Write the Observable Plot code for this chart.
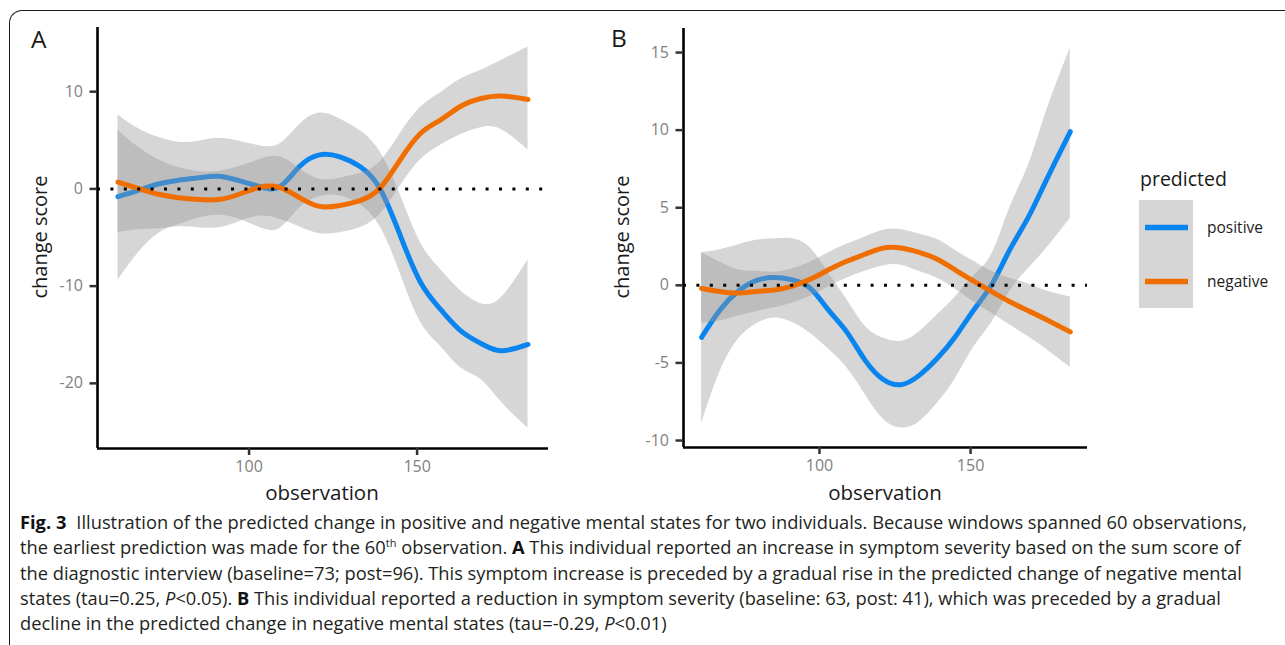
<!DOCTYPE html>
<html>
<head>
<meta charset="utf-8">
<script src="https://cdn.jsdelivr.net/npm/d3@7"></script>
<script src="https://cdn.jsdelivr.net/npm/@observablehq/plot@0.6"></script>
<style>
  html, body { margin: 0; padding: 0; background: #fff; }
  #wrap { position: relative; width: 1285px; height: 645px; overflow: hidden; font-family: "Open Sans", sans-serif; }
  .frame { position: absolute; left: 9px; top: 10px; width: 1400px; height: 800px;
           border-top: 1.3px solid #1a1a1a; border-left: 1.3px solid #1a1a1a; border-top-left-radius: 13px; box-sizing: border-box; }
  .panel { position: absolute; top: 0; }
  #overlay { position: absolute; left: 0; top: 0; pointer-events: none; }
  #caption { position: absolute; left: 20px; top: 509px; font-family: "Open Sans", sans-serif; font-size: 18.3px;
             line-height: 25.3px; color: #231f20; white-space: nowrap; }
  #caption .ln { display: block; }
  #caption b { font-weight: 700; color: #111; }
  #caption b.fig { margin-right: 10px; }
  #caption sup { font-size: 11px; vertical-align: 7px; line-height: 0; }
</style>
</head>
<body>
<div id="wrap">
  <div class="frame"></div>
  <div id="pA" class="panel" style="left:0px"></div>
  <div id="pB" class="panel" style="left:600px"></div>
  <svg id="overlay" width="1285" height="645"></svg>
  <div id="caption">
    <div class="ln"><b class="fig">Fig. 3</b>Illustration of the predicted change in positive and negative mental states for two individuals. Because windows spanned 60 observations,</div>
    <div class="ln">the earliest prediction was made for the 60<sup>th</sup> observation. <b>A</b> This individual reported an increase in symptom severity based on the sum score of</div>
    <div class="ln">the diagnostic interview (baseline=73; post=96). This symptom increase is preceded by a gradual rise in the predicted change of negative mental</div>
    <div class="ln">states (tau=0.25, <i>P</i>&lt;0.05). <b>B</b> This individual reported a reduction in symptom severity (baseline: 63, post: 41), which was preceded by a gradual</div>
    <div class="ln">decline in the predicted change in negative mental states (tau=-0.29, <i>P</i>&lt;0.01)</div>
  </div>
</div>
<script>
// ---------------- data ----------------
const obs = [61, 67, 73, 79, 85, 91, 97, 103, 109, 115, 121, 127, 133, 139, 145, 151, 157, 163, 169, 175, 183];

// Panel A
const A_pos    = [-0.8, -0.15, 0.5, 0.9, 1.15, 1.3, 0.85, 0.25, 0.2, 2.3, 3.5, 3.3, 2.3, 0.0, -4.8, -9.6, -12.4, -14.6, -15.9, -16.65, -16.0];
const A_pos_lo = [-9.4, -6.6, -4.6, -3.7, -3.0, -2.7, -3.1, -3.95, -4.1, -2.0, -0.8, -0.7, -1.6, -3.9, -8.7, -13.7, -16.2, -18.4, -19.6, -21.9, -24.6];
const A_pos_hi = [7.6, 6.2, 5.3, 4.8, 4.9, 5.2, 4.9, 4.45, 4.6, 6.6, 7.8, 7.2, 6.0, 3.8, -0.6, -5.5, -8.3, -10.5, -11.8, -11.2, -7.3];
const A_neg    = [0.7, 0.05, -0.55, -0.9, -1.1, -1.1, -0.55, 0.15, 0.15, -0.9, -1.8, -1.7, -1.2, 0.1, 3.0, 5.7, 7.1, 8.5, 9.3, 9.55, 9.2];
const A_neg_lo = [-4.5, -4.2, -4.1, -3.9, -4.0, -4.0, -3.4, -2.8, -3.1, -3.9, -4.6, -4.5, -4.0, -2.6, 0.3, 3.0, 4.5, 5.6, 6.3, 6.1, 4.0];
const A_neg_hi = [6.0, 4.3, 3.0, 2.2, 1.8, 1.8, 2.3, 3.0, 3.3, 2.1, 1.0, 1.1, 1.6, 2.8, 5.7, 8.4, 9.9, 11.3, 12.2, 13.2, 14.6];

// Panel B
const B_pos    = [-3.35, -1.6, -0.4, 0.3, 0.5, 0.35, -0.2, -1.6, -3.0, -4.8, -6.05, -6.4, -5.8, -4.7, -3.3, -1.6, 0.05, 2.3, 4.35, 6.75, 9.9];
const B_pos_lo = [-8.9, -5.6, -3.5, -2.5, -2.1, -2.4, -3.1, -4.1, -5.3, -7.0, -8.6, -9.2, -8.8, -7.6, -6.0, -4.0, -2.4, -0.4, 1.05, 2.35, 4.3];
const B_pos_hi = [2.1, 2.3, 2.6, 2.9, 3.0, 3.0, 2.4, 0.8, -0.9, -2.6, -3.4, -3.6, -3.0, -1.9, -0.75, 0.6, 2.0, 5.0, 7.65, 11.15, 15.3];
const B_neg    = [-0.2, -0.4, -0.5, -0.4, -0.3, -0.05, 0.4, 1.0, 1.55, 2.0, 2.4, 2.4, 2.12, 1.68, 0.98, 0.27, -0.41, -1.06, -1.63, -2.2, -3.0];
const B_neg_lo = [-2.45, -2.3, -2.0, -1.7, -1.45, -1.15, -0.7, -0.1, 0.45, 0.9, 1.25, 1.3, 0.9, 0.45, -0.25, -1.05, -1.8, -2.55, -3.3, -4.1, -5.3];
const B_neg_hi = [2.1, 1.5, 1.0, 0.9, 0.85, 1.05, 1.5, 2.1, 2.65, 3.1, 3.55, 3.6, 3.3, 2.95, 2.25, 1.55, 0.9, 0.45, 0.1, -0.35, -0.75];

const xTicks = [100, 150];
const A_yTicks = [-20, -10, 0, 10];
const B_yTicks = [-10, -5, 0, 5, 10, 15];
const seriesNames = ["positive", "negative"];
const seriesColors = ["#0A84EE", "#F06E00"];

// ---------------- build ----------------
const rows = (y, lo, hi) => obs.map((o, i) => ({x: o, y: y[i], lo: lo[i], hi: hi[i]}));

function panel({pos, neg, xDomain, yDomain, yTicks, width, height, mL, mR, mT, mB}) {
  const ribbon = (d) => Plot.areaY(d, {x: "x", y1: "lo", y2: "hi", fill: "#999999", fillOpacity: 0.4, curve: "natural"});
  const line = (d, c) => Plot.line(d, {x: "x", y: "y", stroke: c, strokeWidth: 5, curve: "natural"});
  return Plot.plot({
    width, height,
    marginLeft: mL, marginRight: mR, marginTop: mT, marginBottom: mB,
    x: {domain: xDomain},
    y: {domain: yDomain},
    style: {fontFamily: "Open Sans", background: "transparent", overflow: "visible"},
    marks: [
      ribbon(pos), line(pos, seriesColors[0]),
      ribbon(neg), line(neg, seriesColors[1]),
      Plot.ruleY([0], {stroke: "#000", strokeWidth: 3, strokeDasharray: "3,10.4"}),
      Plot.ruleX([xDomain[0]], {stroke: "#000", strokeWidth: 2.6}),
      Plot.ruleY([yDomain[0]], {stroke: "#000", strokeWidth: 2.6}),
      Plot.axisY({ticks: yTicks, tickSize: 7.5, tickPadding: 7, stroke: "#333", strokeWidth: 2.5,
                  fill: "#7f7f7f", fontSize: 16, tickFormat: d => String(d), label: null}),
      Plot.axisX({ticks: xTicks, tickSize: 7, tickPadding: 5, stroke: "#333", strokeWidth: 2.5,
                  fill: "#7f7f7f", fontSize: 16, tickFormat: d => String(d), label: null})
    ]
  });
}

const svgA = panel({
  pos: rows(A_pos, A_pos_lo, A_pos_hi), neg: rows(A_neg, A_neg_lo, A_neg_hi),
  xDomain: [54.9, 189.1], yDomain: [-26.7, 16.6], yTicks: A_yTicks,
  width: 560, height: 510, mL: 97, mR: 12, mT: 27, mB: 62
});
document.getElementById("pA").appendChild(svgA);

const svgB = panel({
  pos: rows(B_pos, B_pos_lo, B_pos_hi), neg: rows(B_neg, B_neg_lo, B_neg_hi),
  xDomain: [55, 188.7], yDomain: [-10.45, 16.55], yTicks: B_yTicks,
  width: 500, height: 510, mL: 83, mR: 13, mT: 28, mB: 63
});
document.getElementById("pB").appendChild(svgB);

// ---------------- overlay text & legend ----------------
const ov = d3.select("#overlay").style("font-family", "'Open Sans', sans-serif");
const txt = (x, y, s, size, opts = {}) => ov.append("text").attr("x", x).attr("y", y).text(s)
  .attr("font-size", size).attr("fill", opts.fill || "#1a1a1a")
  .attr("text-anchor", opts.anchor || "start");

txt(31, 48, "A", 24.5);
txt(611, 47, "B", 24.5);
ov.append("text").attr("transform", "translate(47,237) rotate(-90)").attr("text-anchor", "middle")
  .attr("font-size", 20).attr("fill", "#1a1a1a").text("change score");
ov.append("text").attr("transform", "translate(629,237) rotate(-90)").attr("text-anchor", "middle")
  .attr("font-size", 20).attr("fill", "#1a1a1a").text("change score");
txt(322, 500, "observation", 20.5, {anchor: "middle"});
txt(885, 500, "observation", 20.5, {anchor: "middle"});

// legend
txt(1140, 186, "predicted", 19.5);
seriesNames.forEach((name, i) => {
  const y0 = 200 + i * 54;
  ov.append("rect").attr("x", 1139).attr("y", y0).attr("width", 54).attr("height", 54).attr("fill", "#d6d6d6");
  ov.append("line").attr("x1", 1145).attr("x2", 1188).attr("y1", y0 + 27.5).attr("y2", y0 + 27.5)
    .attr("stroke", seriesColors[i]).attr("stroke-width", 5.5);
  txt(1207, y0 + 33, name, 15.5, {fill: "#222"});
});
</script>
</body>
</html>
